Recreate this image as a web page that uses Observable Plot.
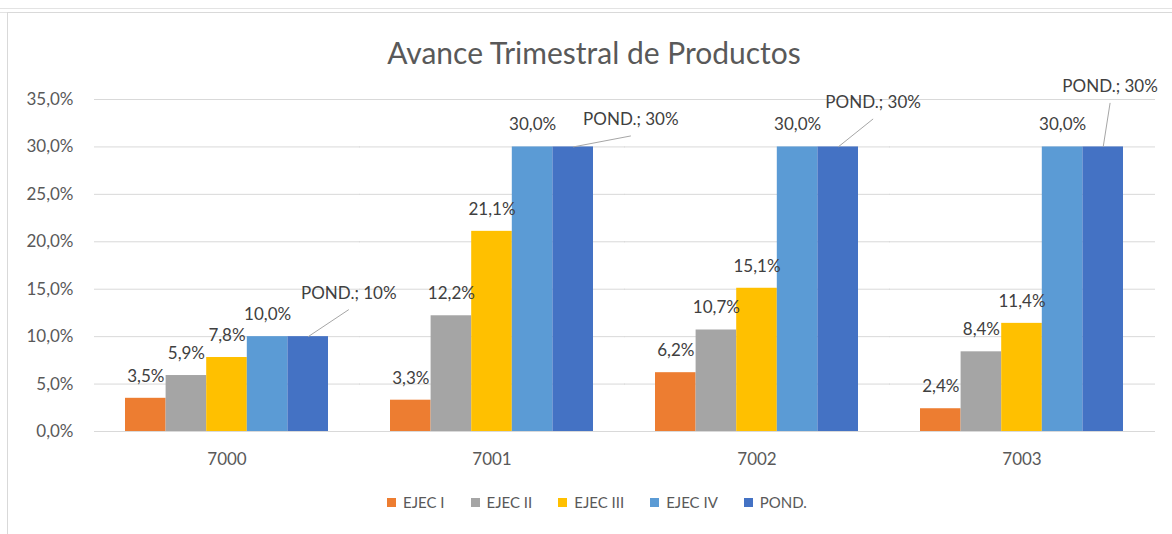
<!DOCTYPE html>
<html><head><meta charset="utf-8">
<script src="https://cdn.jsdelivr.net/npm/d3@7"></script>
<script src="https://cdn.jsdelivr.net/npm/@observablehq/plot@0.6"></script>
<style>
body{margin:0;background:#fff;font-family:Lato,"Open Sans",sans-serif;}
#wrap{position:relative;width:1172px;height:534px;overflow:hidden;}
#sheet{position:absolute;left:0;top:8px;width:1172px;height:3px;border-top:1px solid #e3e3e3;border-bottom:1px solid #e3e3e3;}
#frame{position:absolute;left:7px;top:12px;width:1200px;height:600px;border-left:1px solid #d9d9d9;border-top:1px solid #d9d9d9;}
#title{position:absolute;left:0;top:35px;width:1188px;text-align:center;font-size:30px;line-height:34px;color:#595959;font-weight:400;}
#chart{position:absolute;left:0;top:70px;}
#legend{position:absolute;left:0;top:493px;width:1194px;display:flex;justify-content:center;gap:26px;font-size:15px;line-height:18px;color:#595959;}
#legend .it{display:flex;align-items:center;gap:7px;}
#legend .sw{width:9px;height:9px;display:inline-block;}
</style></head>
<body><div id="wrap"><div id="sheet"></div><div id="frame"></div>
<div id="title">Avance Trimestral de Productos</div>
<div id="chart"></div>
<div id="legend"></div>
</div>
<script>
// ---- data ----
const categories = ["7000", "7001", "7002", "7003"];
const seriesNames = ["EJEC I", "EJEC II", "EJEC III", "EJEC IV", "POND."];
const ejecI   = [3.5, 3.3, 6.2, 2.4];
const ejecII  = [5.9, 12.2, 10.7, 8.4];
const ejecIII = [7.8, 21.1, 15.1, 11.4];
const ejecIV  = [10.0, 30.0, 30.0, 30.0];
const pond    = [10, 30, 30, 30];
const yTicks  = [0, 5, 10, 15, 20, 25, 30, 35];
const seriesColors = ["#ED7D31", "#A5A5A5", "#FFC000", "#5B9BD5", "#4472C4"];
// callout label placement for POND. labels (bar widths, percentage points)
const calloutDx = [1.0, 1.42, 0.86, 0.17];
const calloutDy = [2.85, 1.16, 2.95, 4.64];

const seriesValues = [ejecI, ejecII, ejecIII, ejecIV, pond];
const rows = [];
categories.forEach((c, i) => seriesValues.forEach((arr, j) =>
  rows.push({cat: c, series: seriesNames[j], idx: j, value: arr[i]})));
const pondIdx = seriesNames.indexOf("POND.");
const callouts = categories.map((c, i) => ({
  cat: c, value: pond[i], ex: pondIdx + 0.5 + calloutDx[i], ey: pond[i] + calloutDy[i]
}));
const fmt1 = v => v.toFixed(1).replace(".", ",") + "%";
const FONT = 'Lato, "Open Sans", sans-serif';

const chart = Plot.plot({
  width: 1172, height: 410,
  marginLeft: 123, marginRight: 47, marginTop: 29, marginBottom: 49,
  style: {fontFamily: FONT, fontSize: "17px", color: "#595959", background: "transparent"},
  fx: {domain: categories, paddingInner: 0.233, paddingOuter: 0, label: null, axis: null},
  x: {domain: [0, 5], axis: null},
  y: {domain: [0, 35], axis: null},
  color: {domain: seriesNames, range: seriesColors},
  marks: [
    Plot.ruleY(yTicks, {y: d => d, stroke: "#d9d9d9", strokeWidth: 1, insetLeft: -31, insetRight: -32}),
    Plot.rect(rows, {fx: "cat", x1: "idx", x2: d => d.idx + 1, y1: () => 0, y2: "value", fill: "series"}),
    Plot.text(rows.filter(d => d.series !== "POND."), {
      fx: "cat", x: d => d.idx + 0.5, y: "value", text: d => fmt1(d.value),
      dy: -22, fill: "#404040", fontSize: 17
    }),
    Plot.link(callouts, {fx: "cat", x1: () => pondIdx + 0.5, y1: "value", x2: "ex", y2: "ey", stroke: "#a6a6a6", strokeWidth: 1}),
    Plot.text(callouts, {fx: "cat", x: "ex", y: "ey", text: d => `POND.; ${d.value}%`, dy: -16, fill: "#404040", fontSize: 17}),
    Plot.axisY({ticks: yTicks, tickFormat: fmt1, tickSize: 0, tickPadding: 52, fontSize: 17, label: null}),
    Plot.axisFx({anchor: "bottom", tickSize: 0, tickPadding: 21, fontSize: 17, label: null})
  ]
});
document.getElementById("chart").appendChild(chart);

const leg = document.getElementById("legend");
seriesNames.forEach((s, i) => {
  const it = document.createElement("div"); it.className = "it";
  const sw = document.createElement("span"); sw.className = "sw"; sw.style.background = seriesColors[i];
  const tx = document.createElement("span"); tx.textContent = s;
  it.appendChild(sw); it.appendChild(tx); leg.appendChild(it);
});
</script>
</body></html>
